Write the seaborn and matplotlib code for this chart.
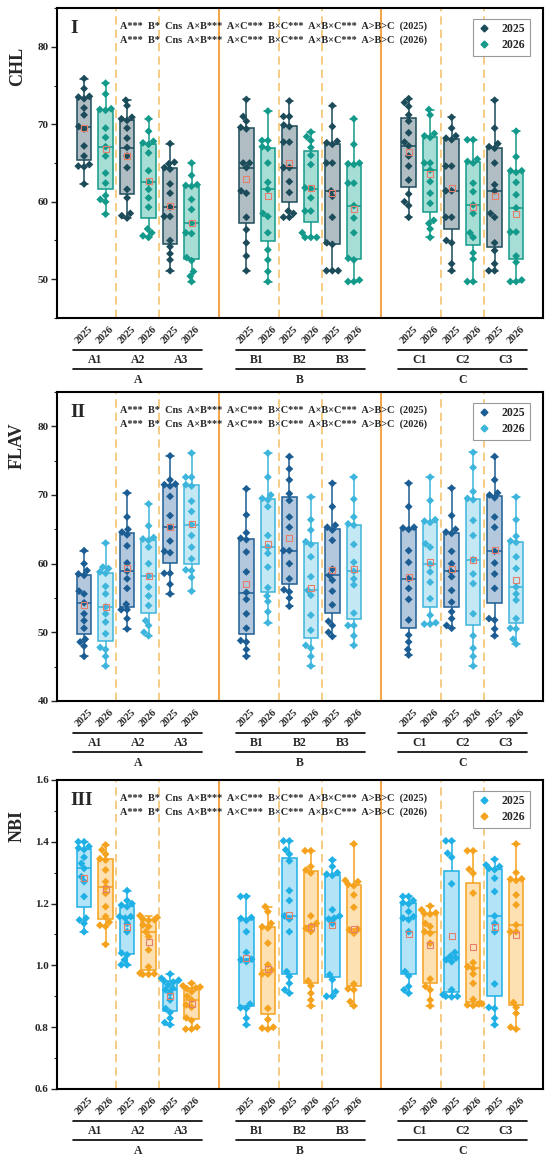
import matplotlib
matplotlib.use("Agg")
import matplotlib.pyplot as plt
from matplotlib.lines import Line2D
from matplotlib.ticker import MultipleLocator, FormatStrFormatter
import pandas as pd
import seaborn as sns

sns.set_style("ticks")
plt.rcParams["font.family"] = ["Liberation Serif", "DejaVu Serif"]
plt.rcParams["font.weight"] = "bold"
plt.rcParams["axes.labelweight"] = "bold"

# -----------------------------
# Data
# -----------------------------
years = ["2025", "2026"]
subgroups = ["A1", "A2", "A3", "B1", "B2", "B3", "C1", "C2", "C3"]
groups = ["A", "B", "C"]

notes = [
    "A***  B*  Cns  A\u00d7B***  A\u00d7C***  B\u00d7C***  A\u00d7B\u00d7C***  A>B>C  (2025)",
    "A***  B*  Cns  A\u00d7B***  A\u00d7C***  B\u00d7C***  A\u00d7B\u00d7C***  A>B>C  (2026)",
]

chl_2025 = [
    [75.9, 74.6, 73.6, 73.5, 73.3, 72.1, 71.2, 69.7, 69.4, 67.2, 65.9, 64.8, 64.6, 64.5, 62.3],
    [73.1, 72.4, 70.9, 70.7, 70.5, 69.5, 68.2, 67.0, 65.9, 64.4, 61.6, 60.5, 58.5, 58.2, 57.9],
    [67.5, 65.1, 64.9, 64.4, 64.2, 62.3, 61.1, 59.3, 58.1, 58.1, 55.0, 54.2, 53.3, 52.5, 51.1],
    [73.2, 71.0, 70.4, 69.6, 69.4, 65.0, 65.0, 64.4, 61.4, 61.1, 58.0, 56.4, 54.7, 53.0, 51.1],
    [73.0, 71.0, 71.0, 69.9, 69.7, 67.7, 67.7, 64.4, 64.4, 62.6, 61.2, 58.8, 58.5, 58.0, 58.0],
    [72.4, 69.7, 67.8, 67.6, 67.4, 65.0, 65.0, 61.4, 60.7, 58.0, 54.7, 54.5, 51.1, 51.1, 51.1],
    [73.3, 72.8, 72.3, 71.2, 70.4, 68.9, 67.7, 67.2, 65.9, 64.6, 62.8, 61.0, 60.0, 59.5, 58.0],
    [70.9, 69.5, 68.5, 68.2, 68.0, 64.6, 64.6, 61.4, 61.4, 58.0, 58.0, 55.0, 54.7, 52.0, 51.1],
    [73.1, 69.5, 67.5, 67.1, 66.9, 65.0, 62.2, 61.4, 58.5, 58.0, 54.7, 53.7, 52.0, 51.1, 51.1],
]
chl_2026 = [
    [75.3, 73.9, 72.0, 71.9, 71.8, 69.5, 68.3, 67.1, 65.9, 63.7, 62.4, 60.8, 60.3, 60.0, 58.4],
    [70.7, 69.1, 67.8, 67.6, 67.4, 66.3, 64.0, 62.5, 61.6, 60.5, 59.3, 56.5, 56.0, 55.6, 55.4],
    [65.0, 63.4, 62.2, 62.1, 62.0, 60.3, 59.0, 57.2, 56.0, 55.9, 52.8, 52.4, 51.0, 50.4, 49.7],
    [71.7, 67.9, 67.9, 67.1, 66.9, 65.0, 62.5, 61.6, 58.5, 58.1, 56.0, 53.8, 52.5, 51.0, 49.7],
    [69.0, 68.4, 67.9, 67.0, 66.0, 64.8, 61.8, 61.7, 60.5, 58.8, 58.8, 56.0, 55.4, 55.4, 55.4],
    [70.7, 67.4, 65.0, 64.9, 64.8, 62.4, 62.4, 59.5, 57.9, 56.0, 52.7, 52.5, 49.9, 49.7, 49.7],
    [71.9, 71.2, 68.8, 68.5, 68.3, 65.0, 65.0, 64.1, 62.6, 61.1, 59.8, 57.6, 57.2, 56.5, 55.4],
    [68.0, 68.0, 65.5, 65.2, 65.0, 62.4, 61.3, 59.6, 58.5, 56.0, 55.4, 53.4, 52.6, 49.7, 49.7],
    [69.1, 65.8, 64.0, 64.0, 63.8, 62.5, 60.9, 59.2, 56.1, 56.1, 53.0, 52.2, 49.9, 49.7, 49.7],
]

flav_2025 = [
    [61.9, 60.0, 59.0, 58.5, 58.3, 56.0, 55.6, 54.3, 52.7, 51.7, 50.6, 49.0, 48.6, 48.0, 46.5],
    [70.3, 66.8, 65.0, 64.6, 64.2, 62.6, 60.1, 58.9, 57.8, 56.4, 54.1, 53.3, 53.3, 52.0, 50.5],
    [75.7, 72.2, 71.6, 71.5, 71.3, 69.8, 67.0, 65.3, 63.3, 61.8, 61.6, 58.6, 58.6, 57.0, 55.6],
    [70.9, 67.1, 64.5, 63.7, 63.5, 61.7, 58.8, 55.8, 54.8, 52.7, 50.6, 48.8, 48.6, 47.5, 46.5],
    [75.6, 73.8, 72.2, 70.2, 69.2, 66.8, 65.3, 61.9, 61.9, 60.0, 57.8, 56.2, 55.9, 55.0, 53.8],
    [71.7, 68.3, 65.6, 65.3, 64.9, 63.4, 59.2, 58.3, 57.6, 56.0, 54.0, 51.6, 51.0, 50.0, 49.4],
    [71.7, 68.3, 65.3, 65.2, 65.0, 61.9, 60.2, 57.8, 56.4, 54.8, 51.8, 49.6, 48.6, 47.5, 46.7],
    [71.0, 67.0, 65.0, 64.6, 64.4, 61.8, 60.0, 58.9, 58.1, 56.1, 54.4, 53.0, 52.0, 51.0, 50.6],
    [75.6, 72.2, 70.3, 70.0, 69.6, 66.8, 65.3, 61.8, 60.1, 58.5, 56.4, 52.0, 51.8, 50.5, 49.5],
]
flav_2026 = [
    [63.0, 59.5, 59.3, 58.8, 58.6, 56.7, 55.6, 53.7, 52.7, 51.5, 49.8, 47.8, 47.5, 46.5, 45.1],
    [68.7, 65.5, 63.8, 63.6, 63.4, 62.4, 60.0, 58.2, 56.6, 55.3, 53.9, 51.7, 51.0, 50.0, 49.5],
    [76.1, 72.6, 72.6, 71.5, 71.3, 69.1, 67.6, 65.7, 64.1, 62.4, 60.7, 59.1, 59.0, 58.0, 56.0],
    [76.1, 72.6, 70.0, 69.5, 69.3, 68.3, 64.1, 62.4, 61.5, 59.5, 56.5, 55.3, 54.5, 53.0, 51.4],
    [69.7, 66.4, 64.9, 63.2, 62.8, 61.0, 58.1, 56.1, 55.4, 52.5, 50.3, 48.1, 47.7, 46.5, 45.1],
    [72.6, 69.4, 66.8, 65.8, 65.6, 62.8, 60.2, 58.9, 57.8, 56.9, 52.8, 51.0, 51.0, 49.5, 48.1],
    [72.6, 69.2, 66.4, 66.2, 66.0, 62.9, 62.4, 59.9, 58.8, 57.3, 54.9, 52.5, 51.4, 51.2, 51.2],
    [76.2, 74.0, 70.5, 69.5, 69.3, 66.3, 64.1, 60.6, 58.5, 57.1, 52.7, 49.5, 47.7, 46.5, 45.1],
    [69.7, 66.4, 64.0, 63.3, 63.1, 61.0, 59.3, 56.6, 55.6, 54.7, 52.0, 50.6, 50.5, 49.0, 48.3],
]

nbi_2025 = [
    [1.400, 1.400, 1.385, 1.380, 1.375, 1.350, 1.330, 1.314, 1.287, 1.271, 1.223, 1.153, 1.147, 1.136, 1.109],
    [1.242, 1.210, 1.200, 1.195, 1.190, 1.158, 1.158, 1.153, 1.136, 1.109, 1.040, 1.034, 1.018, 1.002, 1.002],
    [0.972, 0.958, 0.952, 0.950, 0.946, 0.937, 0.926, 0.921, 0.910, 0.888, 0.860, 0.848, 0.829, 0.815, 0.808],
    [1.223, 1.223, 1.155, 1.152, 1.146, 1.109, 1.042, 1.020, 1.018, 1.012, 0.875, 0.863, 0.861, 0.829, 0.808],
    [1.403, 1.403, 1.374, 1.360, 1.338, 1.242, 1.210, 1.160, 1.150, 1.109, 0.980, 0.964, 0.942, 0.921, 0.910],
    [1.341, 1.320, 1.300, 1.295, 1.291, 1.180, 1.160, 1.153, 1.150, 1.136, 0.970, 0.954, 0.915, 0.900, 0.900],
    [1.223, 1.223, 1.210, 1.203, 1.199, 1.174, 1.158, 1.153, 1.148, 1.109, 0.980, 0.966, 0.932, 0.921, 0.910],
    [1.403, 1.403, 1.363, 1.350, 1.264, 1.042, 1.030, 1.024, 1.018, 1.012, 0.921, 0.905, 0.900, 0.900, 0.898],
    [1.343, 1.325, 1.320, 1.314, 1.310, 1.282, 1.239, 1.160, 1.136, 1.109, 0.940, 0.864, 0.861, 0.829, 0.808],
]
nbi_2026 = [
    [1.390, 1.374, 1.360, 1.345, 1.341, 1.309, 1.271, 1.253, 1.233, 1.190, 1.158, 1.140, 1.130, 1.126, 1.068],
    [1.161, 1.155, 1.150, 1.148, 1.146, 1.131, 1.126, 1.109, 1.093, 1.050, 0.995, 0.975, 0.973, 0.971, 0.971],
    [0.942, 0.934, 0.930, 0.927, 0.925, 0.915, 0.900, 0.888, 0.872, 0.865, 0.830, 0.822, 0.800, 0.794, 0.794],
    [1.190, 1.174, 1.136, 1.125, 1.121, 1.072, 1.002, 0.985, 0.972, 0.972, 0.861, 0.825, 0.800, 0.797, 0.794],
    [1.371, 1.371, 1.320, 1.309, 1.299, 1.160, 1.136, 1.128, 1.120, 1.110, 0.950, 0.934, 0.910, 0.888, 0.869],
    [1.393, 1.275, 1.271, 1.262, 1.258, 1.228, 1.188, 1.117, 1.115, 1.104, 0.940, 0.924, 0.921, 0.883, 0.869],
    [1.192, 1.180, 1.170, 1.168, 1.166, 1.136, 1.126, 1.109, 1.104, 1.072, 0.956, 0.932, 0.921, 0.888, 0.869],
    [1.371, 1.371, 1.311, 1.298, 1.234, 1.009, 0.996, 0.990, 0.972, 0.942, 0.890, 0.876, 0.875, 0.872, 0.870],
    [1.393, 1.300, 1.280, 1.279, 1.275, 1.228, 1.196, 1.131, 1.109, 1.109, 0.880, 0.864, 0.845, 0.800, 0.794],
]

# -----------------------------
# Styling
# -----------------------------
GROUP_STEP = 7.55
MEAN_COLOR = "#e57f6b"
DASH_COLOR = "#f3c46e"
SOLID_COLOR = "#f2a54a"

panels = [
    dict(name="CHL", roman="I", d25=chl_2025, d26=chl_2026,
         line={"2025": "#1c4b5a", "2026": "#139a8a"},
         fill={"2025": "#b0bec4", "2026": "#a6ddd5"},
         ylim=(45, 85), major=10, fmt="%d",
         rect=[57 / 550, 1 - 318 / 1160, 486 / 550, 310 / 1160], ylab_y=0.81),
    dict(name="FLAV", roman="II", d25=flav_2025, d26=flav_2026,
         line={"2025": "#1c5e94", "2026": "#3db5dc"},
         fill={"2025": "#b3c8dd", "2026": "#c4e9f5"},
         ylim=(40, 85), major=10, fmt="%d",
         rect=[57 / 550, 1 - 701 / 1160, 486 / 550, 309 / 1160], ylab_y=0.825),
    dict(name="NBI", roman="III", d25=nbi_2025, d26=nbi_2026,
         line={"2025": "#1fb0e6", "2026": "#f5a21e"},
         fill={"2025": "#b2e3f6", "2026": "#fde1b3"},
         ylim=(0.6, 1.6), major=0.2, fmt="%.1f",
         rect=[57 / 550, 1 - 1089 / 1160, 486 / 550, 309 / 1160], ylab_y=0.85),
]


def make_frame(vals25, vals26):
    rows = []
    for k, sub in enumerate(subgroups):
        base = (k // 3) * GROUP_STEP + (k % 3) * 2
        for off, (yr, vals) in enumerate(zip(years, (vals25[k], vals26[k]))):
            for v in vals:
                rows.append((base + off, yr, sub, v))
    return pd.DataFrame(rows, columns=["pos", "year", "sub", "value"])


fig = plt.figure(figsize=(5.5, 11.6), dpi=100)

for p in panels:
    ax = fig.add_axes(p["rect"])
    df = make_frame(p["d25"], p["d26"])

    # group separators
    for m in range(3):
        start = m * GROUP_STEP
        for x in (start + 1.5, start + 3.5):
            ax.axvline(x, color=DASH_COLOR, lw=1.2, ls=(0, (5, 3)), zorder=0)
    for m in range(2):
        ax.axvline(m * GROUP_STEP + 5 + (GROUP_STEP - 5) / 2, color=SOLID_COLOR, lw=1.5, zorder=0)

    for yr in years:
        sub = df[df["year"] == yr]
        sns.boxplot(data=sub, x="pos", y="value", native_scale=True, width=0.34,
                    whis=(0, 100), color=p["fill"][yr], linecolor=p["line"][yr],
                    linewidth=1.1, saturation=1, showfliers=False, ax=ax, zorder=2)

    sns.swarmplot(data=df, x="pos", y="value", hue="year", native_scale=True,
                  palette=p["line"], dodge=False, marker="D", size=4, linewidth=0,
                  legend=False, ax=ax, zorder=3)

    sns.pointplot(data=df, x="pos", y="value", native_scale=True, estimator="mean",
                  errorbar=None, color=MEAN_COLOR, markers="s", linestyles="none",
                  markersize=4.5, markerfacecolor="none", markeredgewidth=0.8,
                  ax=ax, zorder=4)

    # axes
    pos = sorted(df["pos"].unique())
    ax.set_xlim(-1.26, 21.35)
    ax.set_ylim(*p["ylim"])
    ax.set_xticks(pos)
    ax.set_xticklabels([years[i % 2] for i in range(len(pos))], rotation=45,
                       ha="center", va="top", fontsize=7.5, fontweight="bold")
    ax.tick_params(axis="x", length=0, pad=5)
    ax.yaxis.set_major_locator(MultipleLocator(p["major"]))
    ax.yaxis.set_minor_locator(MultipleLocator(p["major"] / 2))
    ax.yaxis.set_major_formatter(FormatStrFormatter(p["fmt"]))
    ax.tick_params(axis="y", which="major", direction="out", length=4, width=1,
                   labelsize=8, pad=2)
    ax.tick_params(axis="y", which="minor", direction="out", length=2, width=0.8)
    for lab in ax.get_yticklabels():
        lab.set_fontweight("bold")
    for s in ax.spines.values():
        s.set_visible(True)
        s.set_linewidth(1.5)
        s.set_color("black")
    ax.set_xlabel("")
    ax.set_ylabel("")

    ax.text(-0.081, p["ylab_y"], p["name"], transform=ax.transAxes, rotation=90,
            ha="center", va="center", fontsize=13, fontweight="bold")
    ax.text(0.027, 0.96, p["roman"], transform=ax.transAxes, ha="left", va="top",
            fontsize=14, fontweight="bold")
    ax.text(0.13, 0.942, notes[0], transform=ax.transAxes, ha="left", va="center",
            fontsize=7.4, fontweight="bold")
    ax.text(0.13, 0.897, notes[1], transform=ax.transAxes, ha="left", va="center",
            fontsize=7.4, fontweight="bold")

    # two-level category labels below axis
    trans = ax.get_xaxis_transform()
    for m, g in enumerate(groups):
        start = m * GROUP_STEP
        for yline in (-0.103, -0.165):
            ax.plot([start - 0.5, start + 5.5], [yline, yline], transform=trans,
                    clip_on=False, color="black", lw=1.2)
        for j in range(3):
            ax.text(start + j * 2 + 0.5, -0.136, subgroups[m * 3 + j], transform=trans,
                    ha="center", va="center", fontsize=8.5, fontweight="bold")
        ax.text(start + 2.5, -0.2, g, transform=trans, ha="center", va="center",
                fontsize=8.5, fontweight="bold")

    handles = [Line2D([], [], marker="D", ls="none", color=p["line"][yr], markersize=3.5)
               for yr in years]
    leg = ax.legend(handles, years, loc="upper right", bbox_to_anchor=(0.985, 0.985),
                    frameon=True, fancybox=False, edgecolor="#9a9a9a", framealpha=1,
                    prop={"weight": "bold", "size": 8.5}, handlelength=1.0,
                    handletextpad=1.0, borderpad=0.4, labelspacing=0.3)
    leg.get_frame().set_linewidth(0.8)

fig.savefig("out.png", dpi=100)
